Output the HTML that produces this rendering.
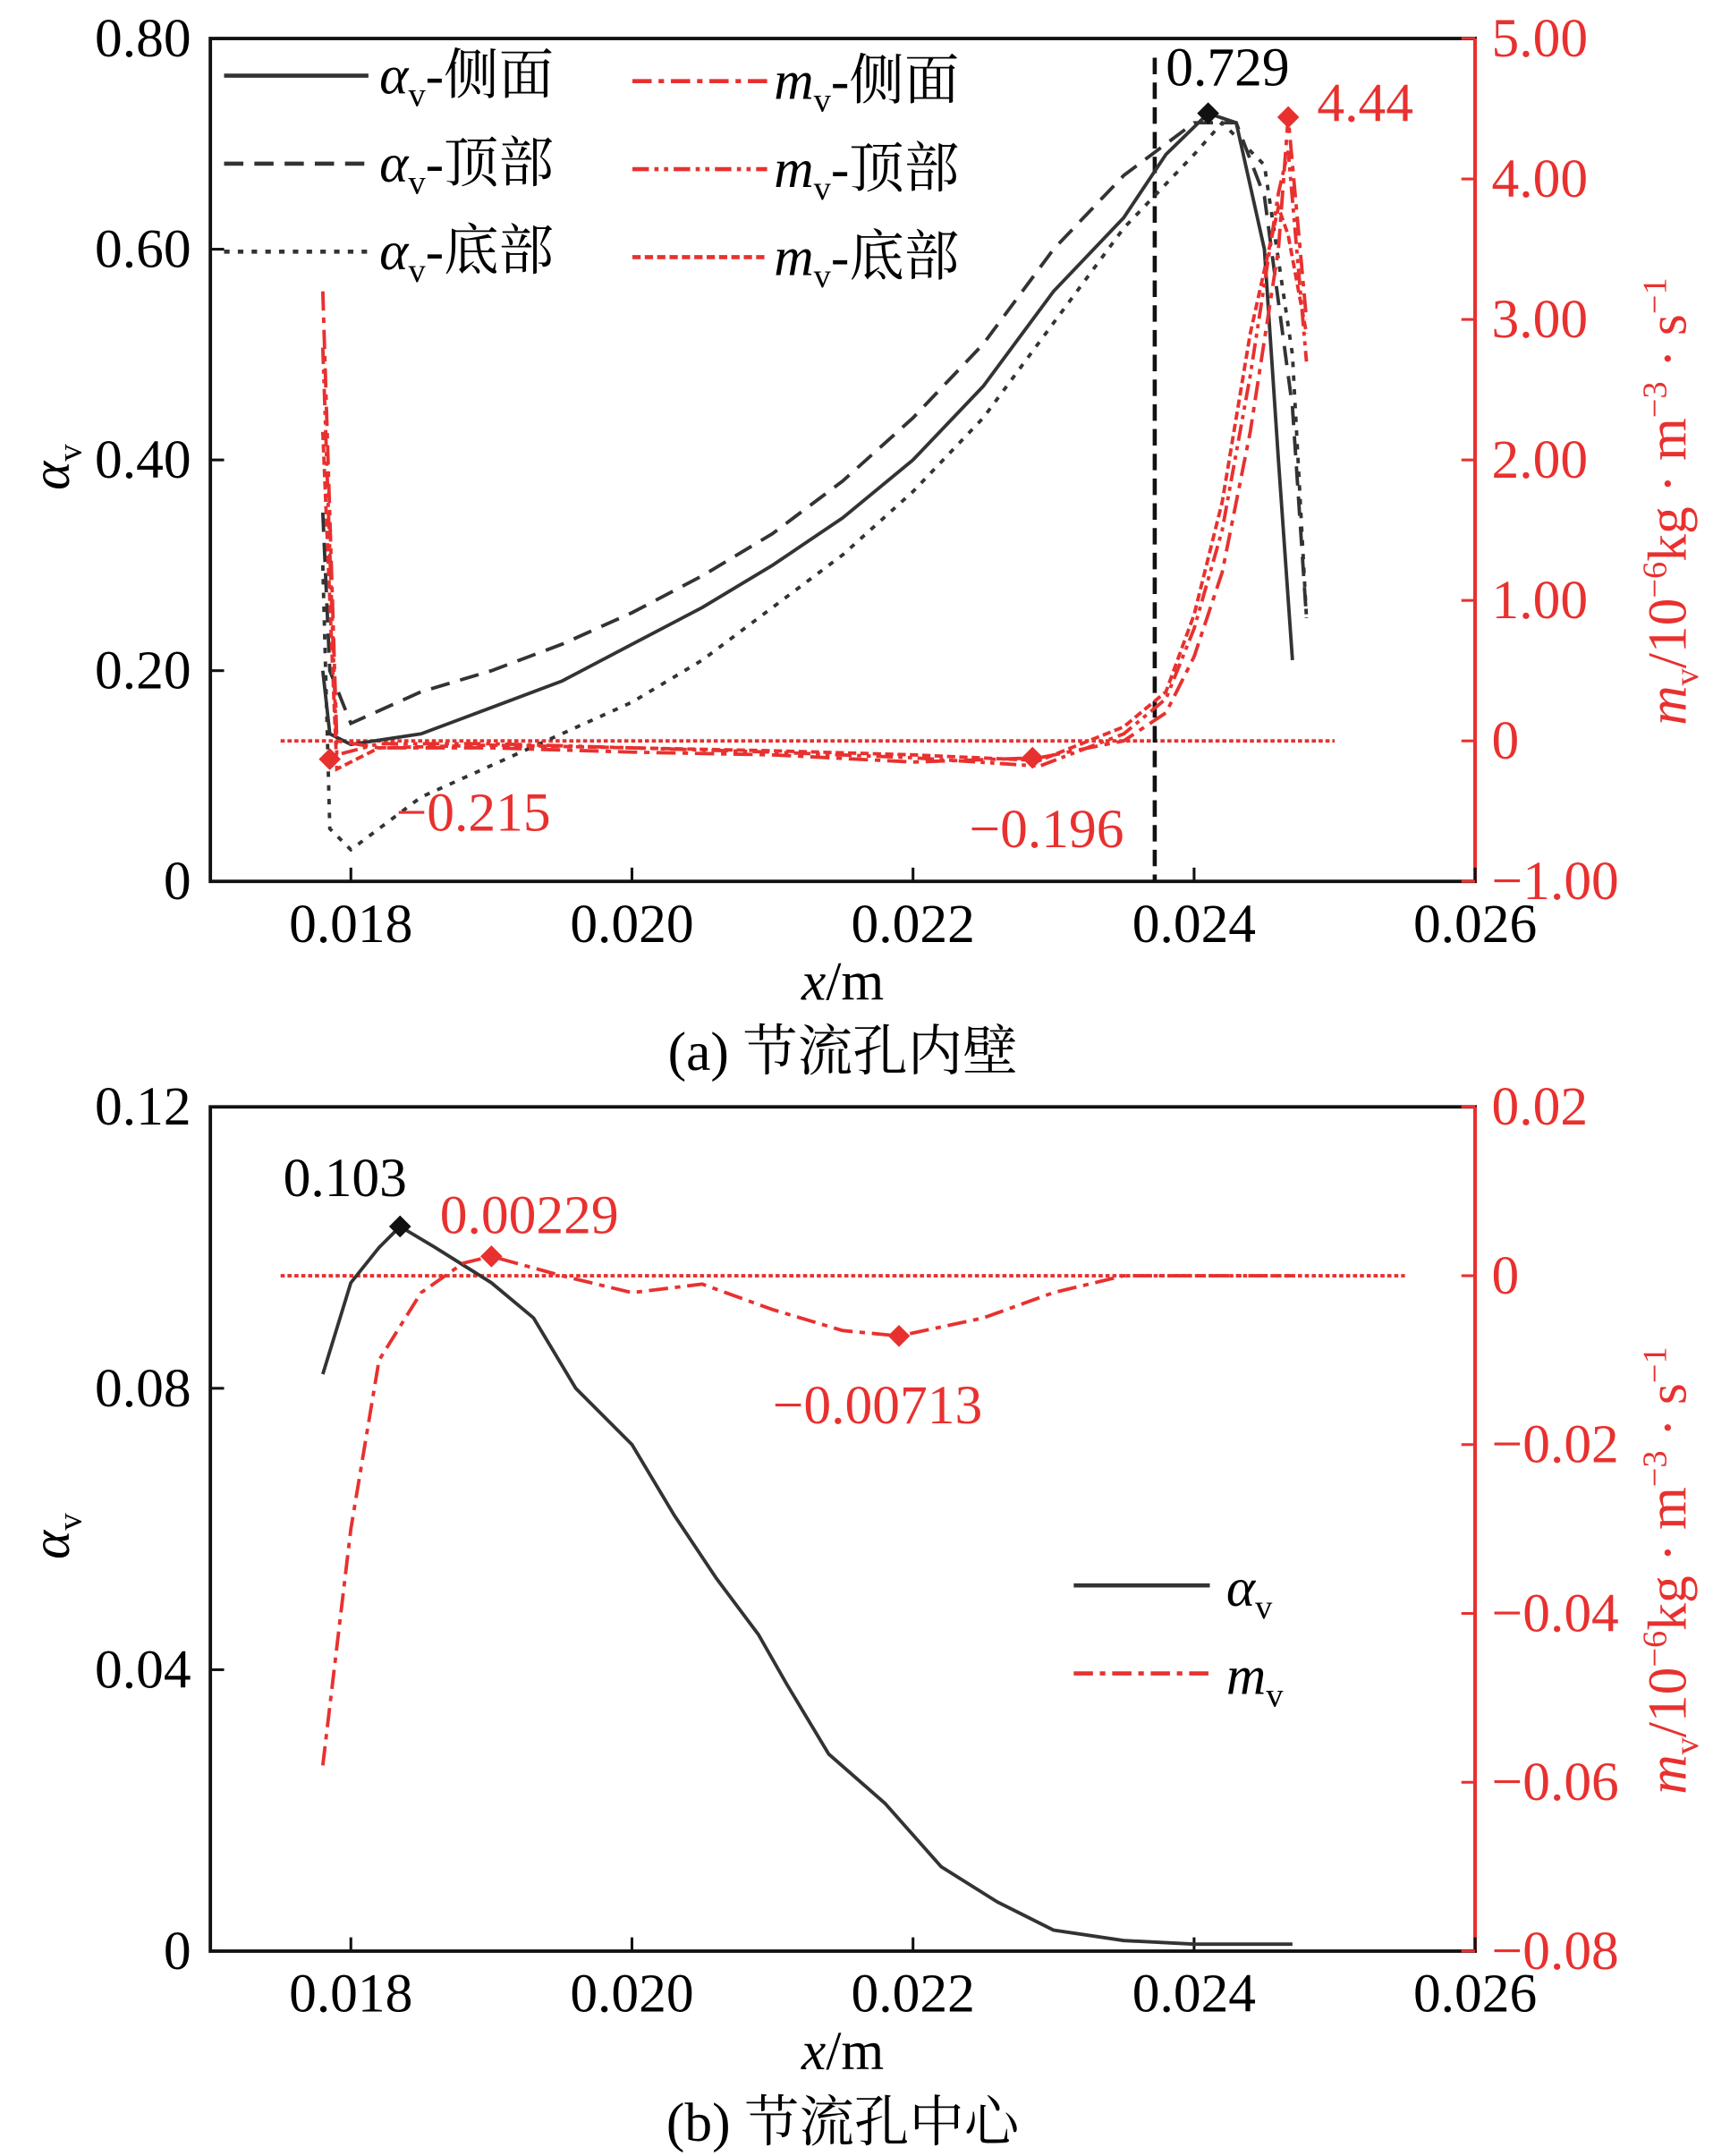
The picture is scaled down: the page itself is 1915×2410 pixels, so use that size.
<!DOCTYPE html>
<html><head><meta charset="utf-8"><style>
html,body{margin:0;padding:0;background:#fff}
svg{display:block}
text{font-family:"Liberation Serif","Noto Serif CJK SC",serif}
</style></head><body>
<svg id="c" width="1915" height="2410" viewBox="0 0 1246 1568" preserveAspectRatio="none">
<rect width="1246" height="1568" fill="#fff"/>
</svg>
<script>
// ---- data ----
const xTicks=[0.018,0.020,0.022,0.024,0.026];
const aTicksTop=[0,0.20,0.40,0.60,0.80];
const aTickLabelsTop=["0","0.20","0.40","0.60","0.80"];
const mTicksTop=[-1,0,1,2,3,4,5];
const mTickLabelsTop=["\u22121.00","0","1.00","2.00","3.00","4.00","5.00"];
const aTicksBot=[0,0.04,0.08,0.12];
const aTickLabelsBot=["0","0.04","0.08","0.12"];
const mTicksBot=[-0.08,-0.06,-0.04,-0.02,0,0.02];
const mTickLabelsBot=["\u22120.08","\u22120.06","\u22120.04","\u22120.02","0","0.02"];

const xSide=[0.0178,0.01785,0.018,0.0185,0.019,0.0195,0.020,0.0205,0.021,0.0215,0.022,0.0225,0.023,0.0235,0.0238,0.0241,0.0243,0.0245,0.0246,0.0247];
const aSide=[0.20,0.14,0.13,0.14,0.165,0.19,0.225,0.26,0.30,0.345,0.40,0.47,0.56,0.63,0.69,0.729,0.72,0.60,0.40,0.21];
const xTop=[0.0178,0.01785,0.018,0.0185,0.019,0.0195,0.020,0.0205,0.021,0.0215,0.022,0.0225,0.023,0.0235,0.024,0.0243,0.0245,0.0247,0.0248];
const aTop=[0.35,0.20,0.15,0.18,0.20,0.225,0.255,0.29,0.33,0.38,0.44,0.51,0.60,0.67,0.72,0.72,0.65,0.45,0.25];
const xBot=[0.0178,0.01785,0.018,0.0185,0.019,0.0195,0.020,0.0205,0.021,0.0215,0.022,0.0225,0.023,0.0235,0.024,0.0242,0.0245,0.0247,0.0248];
const aBot=[0.30,0.05,0.03,0.08,0.11,0.14,0.17,0.21,0.26,0.31,0.37,0.44,0.53,0.62,0.69,0.72,0.68,0.50,0.25];

const xm=[0.0178,0.0179,0.0182,0.019,0.020,0.021,0.022,0.0229,0.0235,0.0238,0.024,0.0242,0.0244,0.0246,0.02467,0.0248];
const mSide=[3.2,0,-0.05,-0.05,-0.08,-0.1,-0.15,-0.12,0,0.2,0.6,1.2,2.2,3.5,4.44,3.0];
const mTop=[2.8,-0.1,-0.02,-0.02,-0.05,-0.08,-0.12,-0.18,0.05,0.3,0.8,1.5,2.6,3.9,4.2,2.7];
const mBotS=[2.2,-0.2,-0.05,-0.03,-0.05,-0.07,-0.1,-0.14,0.1,0.35,0.9,1.7,2.9,3.8,3.6,2.9];

const xb=[0.0178,0.018,0.0182,0.01835,0.0186,0.019,0.0193,0.0196,0.020,0.0203,0.0206,0.0209,0.0211,0.0214,0.0218,0.0222,0.0226,0.023,0.0235,0.024,0.0247];
const aCenter=[0.082,0.095,0.1,0.103,0.1,0.095,0.09,0.08,0.072,0.062,0.053,0.045,0.038,0.028,0.021,0.012,0.007,0.003,0.0015,0.001,0.001];
const xbm=[0.0178,0.018,0.0182,0.0185,0.0188,0.019,0.0195,0.020,0.0205,0.021,0.0215,0.0219,0.0225,0.023,0.0235,0.0247];
const mCenter=[-0.058,-0.03,-0.01,-0.002,0.0015,0.00229,0,-0.002,-0.001,-0.004,-0.0065,-0.00713,-0.005,-0.002,0,0];

// ---- helpers ----
const svg=document.getElementById('c');const NS='http://www.w3.org/2000/svg';
function mk(t,a,txt){const e=document.createElementNS(NS,t);for(const k in a)e.setAttribute(k,a[k]);if(txt!==undefined)e.textContent=txt;svg.appendChild(e);return e;}
const L=153,R=1073;
const X=v=>L+(v-0.017)/0.009*(R-L);
function lin(d0,d1,p0,p1){return v=>p0+(v-d0)/(d1-d0)*(p1-p0);}
const T1=28,B1=641,T2=805,B2=1419;
const YaT=lin(0,0.8,B1,T1),YmT=lin(-1,5,B1,T1),YaB=lin(0,0.12,B2,T2),YmB=lin(-0.08,0.02,B2,T2);
function path(xs,ys,Y,st,name){const d=xs.map((x,i)=>(i?'L':'M')+X(x).toFixed(1)+' '+Y(ys[i]).toFixed(1)).join(' ');
const p=mk('path',Object.assign({d:d,fill:'none','stroke-width':2.5},st));

}
function diamond(x,y,col,name){const s=8;const p=mk('path',{d:`M${x} ${y-s}L${x+s} ${y}L${x} ${y+s}L${x-s} ${y}Z`,fill:col});

}
function txt(x,y,s,o){const a=Object.assign({x:x,y:y,'font-size':40},o||{});const t=mk('text',a);t.innerHTML=s;return t;}
const K='#333',RED='#e8312f';
const SUBV='<tspan font-size="25" dy="9">v</tspan>';
function axes(T,B,aT,aL,Ya,mT,mL,Ym,pre){
 mk('rect',{x:L,y:T,width:R-L,height:B-T,fill:'none',stroke:'#111','stroke-width':2.5,});
 mk('line',{x1:R,y1:T,x2:R,y2:B,stroke:RED,'stroke-width':2.5,});
 xTicks.forEach(v=>{mk('line',{x1:X(v),y1:B,x2:X(v),y2:B-10,stroke:'#111','stroke-width':2});
  txt(X(v),B+44,v.toFixed(3),{'text-anchor':'middle',});});
 aT.forEach((v,i)=>{mk('line',{x1:L,y1:Ya(v),x2:L+10,y2:Ya(v),stroke:'#111','stroke-width':2});
  txt(L-14,Ya(v)+13,aL[i],{'text-anchor':'end',});});
 mT.forEach((v,i)=>{mk('line',{x1:R,y1:Ym(v),x2:R-10,y2:Ym(v),stroke:RED,'stroke-width':2});
  txt(R+12,Ym(v)+13,mL[i],{fill:RED,});});
 txt(613,B+86,'<tspan font-style="italic">x</tspan>/m',{'text-anchor':'middle',});
 txt(0,0,'<tspan font-style="italic">α</tspan>'+SUBV,{transform:`translate(50,${(T+B)/2+22}) rotate(-90)`,});
 txt(0,0,'<tspan font-style="italic">m</tspan>'+SUBV+'<tspan dy="-9">/10</tspan><tspan font-size="25" dy="-14">−6</tspan><tspan dy="14">kg · m</tspan><tspan font-size="25" dy="-14">−3</tspan><tspan dy="14"> · s</tspan><tspan font-size="25" dy="-14">−1</tspan>',{fill:RED,transform:`translate(1226,${(T+B)/2+193}) rotate(-90)`,});
}
axes(T1,B1,aTicksTop,aTickLabelsTop,YaT,mTicksTop,mTickLabelsTop,YmT,'top');
axes(T2,B2,aTicksBot,aTickLabelsBot,YaB,mTicksBot,mTickLabelsBot,YmB,'bottom');
txt(613,778,'(a) 节流孔内壁',{'text-anchor':'middle',});
txt(613,1557,'(b) 节流孔中心',{'text-anchor':'middle',});

// top chart
mk('line',{x1:X(0.0175),y1:YmT(0),x2:X(0.025),y2:YmT(0),stroke:RED,'stroke-width':2.5,'stroke-dasharray':'3 2',});
mk('line',{x1:X(0.02372),y1:T1+14,x2:X(0.02372),y2:B1,stroke:'#111','stroke-width':3,'stroke-dasharray':'12 6',});
path(xSide,aSide,YaT,{stroke:K},'alpha-side-line');
path(xTop,aTop,YaT,{stroke:K,'stroke-dasharray':'14 8'},'alpha-top-line');
path(xBot,aBot,YaT,{stroke:K,'stroke-dasharray':'4 6'},'alpha-bottom-line');
path(xm,mSide,YmT,{stroke:RED,'stroke-dasharray':'14 5 4 5'},'m-side-line');
path(xm,mTop,YmT,{stroke:RED,'stroke-dasharray':'12 4 3 4 3 4'},'m-top-line');
path(xm,mBotS,YmT,{stroke:RED,'stroke-dasharray':'6 3'},'m-bottom-line');
diamond(X(0.0241),YaT(0.729),'#111','alpha-peak-marker');
diamond(X(0.02467),YmT(4.44),RED,'m-peak-marker');
diamond(X(0.01785),YmT(-0.13),RED,'m-min1-marker');
diamond(X(0.02285),YmT(-0.12),RED,'m-min2-marker');
txt(848,62,'0.729',{});
txt(958,88,'4.44',{fill:RED,});
txt(288,604,'−0.215',{fill:RED,});
txt(705,616,'−0.196',{fill:RED,});
// legend top
const lg=[['侧面',{},{'stroke-dasharray':'14 5 4 5'}],['顶部',{'stroke-dasharray':'14 8'},{'stroke-dasharray':'12 4 3 4 3 4'}],['底部',{'stroke-dasharray':'4 6'},{'stroke-dasharray':'6 3'}]];
lg.forEach((g,i)=>{const y=55+i*64;
 mk('line',Object.assign({x1:163,y1:y,x2:268,y2:y,stroke:K,'stroke-width':3,},g[1]));
 txt(276,y+13,'<tspan font-style="italic">α</tspan>'+SUBV+'<tspan dy="-9">-'+g[0]+'</tspan>',{});
 mk('line',Object.assign({x1:460,y1:y+4,x2:558,y2:y+4,stroke:RED,'stroke-width':3,},g[2]));
 txt(563,y+17,'<tspan font-style="italic">m</tspan>'+SUBV+'<tspan dy="-9">-'+g[0]+'</tspan>',{});
});

// bottom chart
mk('line',{x1:X(0.0175),y1:YmB(0),x2:X(0.0255),y2:YmB(0),stroke:RED,'stroke-width':2.5,'stroke-dasharray':'3 2',});
path(xb,aCenter,YaB,{stroke:K},'alpha-center-line');
path(xbm,mCenter,YmB,{stroke:RED,'stroke-dasharray':'14 5 4 5'},'m-center-line');
diamond(X(0.01835),YaB(0.103),'#111','alpha-center-peak');
diamond(X(0.019),YmB(0.00229),RED,'m-center-peak');
diamond(X(0.0219),YmB(-0.00713),RED,'m-center-min');
txt(206,870,'0.103',{});
txt(320,897,'0.00229',{fill:RED,});
txt(562,1035,'−0.00713',{fill:RED,});
mk('line',{x1:781,y1:1153,x2:880,y2:1153,stroke:K,'stroke-width':3,});
txt(892,1168,'<tspan font-style="italic">α</tspan>'+SUBV,{});
mk('line',{x1:781,y1:1217,x2:880,y2:1217,stroke:RED,'stroke-width':3,'stroke-dasharray':'14 5 4 5',});
txt(892,1232,'<tspan font-style="italic">m</tspan>'+SUBV,{});
</script>
</body></html>
